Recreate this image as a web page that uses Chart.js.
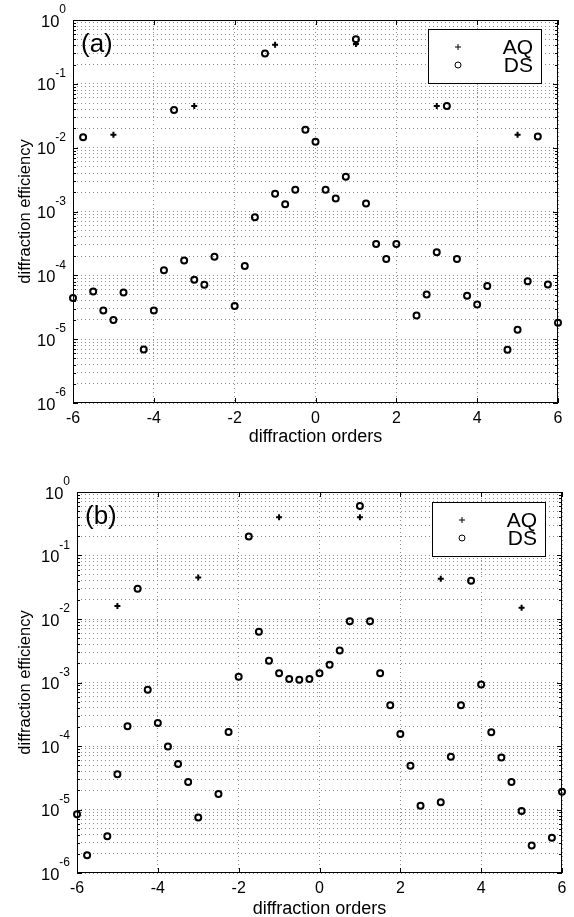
<!DOCTYPE html>
<html>
<head>
<meta charset="utf-8">
<script src="https://cdn.jsdelivr.net/npm/chart.js@4.4.1/dist/chart.umd.min.js"></script>
<style>
  html, body { margin: 0; padding: 0; background: #fff; }
  #wrap { position: relative; width: 574px; height: 917px; }
  canvas { position: absolute; left: 0; }
  #chartA { top: 0; }
  #chartB { top: 455px; }
</style>
</head>
<body>
<div id="wrap">
  <canvas id="chartA" width="574" height="455"></canvas>
  <canvas id="chartB" width="574" height="462"></canvas>
</div>
<script>
// values
const aqOrders = [-5, -3, -1, 1, 3, 5];
const aqA = [0.016, 0.045, 0.41, 0.42, 0.045, 0.016];
const aqB = [0.016, 0.045, 0.40, 0.40, 0.043, 0.015];

const dsOrdersA = [-6, -5.75, -5.5, -5.25, -5, -4.75, -4.25, -4, -3.75, -3.5, -3.25, -3,
  -2.75, -2.5, -2, -1.75, -1.5, -1.25, -1, -0.75, -0.5, -0.25, 0, 0.25, 0.5, 0.75, 1, 1.25,
  1.5, 1.75, 2, 2.5, 2.75, 3, 3.25, 3.5, 3.75, 4, 4.25, 4.75, 5, 5.25, 5.5, 5.75, 6];
const dsA = [4.4e-5, 0.0145, 5.6e-5, 2.8e-5, 2.0e-5, 5.4e-5, 6.9e-6, 2.8e-5, 1.2e-4, 0.039, 1.7e-4, 8.5e-5,
  7.1e-5, 1.95e-4, 3.3e-5, 1.4e-4, 8.1e-4, 0.30, 0.0019, 0.0013, 0.0022, 0.019, 0.0124, 0.0022, 0.0016, 0.0035, 0.50, 0.00134,
  3.1e-4, 1.8e-4, 3.1e-4, 2.35e-5, 5.0e-5, 2.3e-4, 0.045, 1.8e-4, 4.8e-5, 3.5e-5, 6.8e-5, 6.8e-6, 1.4e-5, 8.1e-5, 0.015, 7.2e-5, 1.8e-5];

const dsOrdersB = [-6, -5.75, -5.25, -5, -4.75, -4.5, -4.25, -4, -3.75, -3.5, -3.25, -3,
  -2.5, -2.25, -2, -1.75, -1.5, -1.25, -1, -0.75, -0.5, -0.25, 0, 0.25, 0.5, 0.75, 1, 1.25,
  1.5, 1.75, 2, 2.25, 2.5, 3, 3.25, 3.5, 3.75, 4, 4.25, 4.5, 4.75, 5, 5.25, 5.75, 6];
const dsB = [8.4e-6, 1.9e-6, 3.8e-6, 3.6e-5, 2.05e-4, 0.030, 7.7e-4, 2.3e-4, 9.8e-5, 5.2e-5, 2.7e-5, 7.5e-6,
  1.75e-5, 1.66e-4, 1.23e-3, 0.20, 0.0063, 0.0022, 0.0014, 0.00114, 0.0011, 0.00114, 0.0014, 0.0019, 0.0032, 0.0092, 0.60, 0.0092,
  0.0014, 4.4e-4, 1.55e-4, 4.9e-5, 1.15e-5, 1.3e-5, 6.8e-5, 4.4e-4, 0.040, 9.3e-4, 1.65e-4, 6.6e-5, 2.7e-5, 9.5e-6, 2.7e-6, 3.6e-6, 1.9e-5];

const xTicks = [-6, -4, -2, 0, 2, 4, 6];
const decades = [-6, -5, -4, -3, -2, -1, 0];
const legendLabels = ["AQ", "DS"];

const FONT = "'Liberation Sans', Arial, Helvetica, sans-serif";
Chart.defaults.font.family = FONT;
Chart.defaults.color = "#000";

function isDecade(v) {
  const l = Math.log10(v);
  return Math.abs(l - Math.round(l)) < 1e-9;
}

// box, inward ticks, 10^n labels, panel tag and legend, matlab style
const matlabFrame = {
  id: "matlabFrame",
  afterDraw(chart, args, opts) {
    const { ctx, chartArea: a, scales: { x, y } } = chart;
    ctx.save();
    ctx.strokeStyle = "#000";
    ctx.lineWidth = 1;
    ctx.beginPath();
    x.ticks.forEach(t => {
      const px = Math.round(x.getPixelForValue(t.value)) + 0.5;
      ctx.moveTo(px, a.bottom); ctx.lineTo(px, a.bottom - 5);
      ctx.moveTo(px, a.top); ctx.lineTo(px, a.top + 5);
    });
    y.ticks.forEach(t => {
      const py = Math.round(y.getPixelForValue(t.value)) + 0.5;
      const len = isDecade(t.value) ? 5 : 3;
      ctx.moveTo(a.left, py); ctx.lineTo(a.left + len, py);
      ctx.moveTo(a.right, py); ctx.lineTo(a.right - len, py);
    });
    ctx.stroke();
    ctx.strokeRect(Math.round(a.left) + 0.5, Math.round(a.top) + 0.5,
      Math.round(a.width) - 1, Math.round(a.height) - 1);

    // y tick labels with superscript exponents
    ctx.fillStyle = "#000";
    decades.forEach(e => {
      const py = y.getPixelForValue(Math.pow(10, e));
      const sup = String(e);
      ctx.font = "12px " + FONT;
      ctx.textAlign = "right";
      ctx.textBaseline = "middle";
      const supRight = a.left - 7;
      ctx.fillText(sup, supRight, py - 10);
      const w = ctx.measureText(sup).width;
      ctx.font = "16.5px " + FONT;
      ctx.fillText("10", supRight - w, py + 2);
    });

    // panel tag
    ctx.font = "26px " + FONT;
    ctx.textAlign = "left";
    ctx.textBaseline = "middle";
    ctx.fillText(opts.label, a.left + 8, a.top + 25);

    // legend box
    const lx = a.left + 355, ly = a.top + opts.legendTop, lw = 113, lh = 54;
    ctx.fillStyle = "#fff";
    ctx.fillRect(lx, ly, lw, lh);
    ctx.strokeRect(lx + 0.5, ly + 0.5, lw, lh);
    ctx.fillStyle = "#000";
    const sx = lx + 30;
    const r1 = ly + 18, r2 = ly + 36;
    ctx.beginPath();
    ctx.moveTo(sx - 3, r1); ctx.lineTo(sx + 3, r1);
    ctx.moveTo(sx, r1 - 3); ctx.lineTo(sx, r1 + 3);
    ctx.stroke();
    ctx.beginPath();
    ctx.arc(sx, r2, 3, 0, Math.PI * 2);
    ctx.stroke();
    ctx.font = "21px " + FONT;
    ctx.textAlign = "right";
    ctx.textBaseline = "middle";
    ctx.fillText(legendLabels[0], lx + lw - 8, r1 + 1);
    ctx.fillText(legendLabels[1], lx + lw - 8, r2 + 1);
    ctx.restore();
  }
};

function yTickList() {
  const list = [];
  decades.forEach(e => {
    for (let m = 1; m <= 9; m++) {
      const v = m * Math.pow(10, e);
      if (v <= 1.0000001) list.push({ value: v });
    }
  });
  return list;
}

function makePanel(id, label, aq, dsOrders, ds, g) {
  const ctx = document.getElementById(id).getContext("2d");
  return new Chart(ctx, {
    type: "scatter",
    data: {
      datasets: [
        {
          label: legendLabels[0],
          data: aqOrders.map((o, i) => ({ x: o, y: aq[i] })),
          pointStyle: "cross",
          pointRadius: 3,
          borderColor: "#000",
          borderWidth: 2,
          clip: false
        },
        {
          label: legendLabels[1],
          data: dsOrders.map((o, i) => ({ x: o, y: ds[i] })),
          pointStyle: "circle",
          pointRadius: 3,
          borderColor: "#000",
          backgroundColor: "rgba(0,0,0,0)",
          borderWidth: 2,
          clip: false
        }
      ]
    },
    options: {
      responsive: false,
      animation: false,
      layout: { padding: { top: g.top, right: g.right, left: 0, bottom: 0 } },
      scales: {
        x: {
          type: "linear",
          min: -6,
          max: 6,
          afterBuildTicks: s => { s.ticks = xTicks.map(v => ({ value: v })); },
          afterFit: s => { s.height = g.xHeight; },
          ticks: { color: "#000", font: { size: 16 }, padding: 6, maxRotation: 0 },
          grid: { color: "#8c8c8c", lineWidth: 1, drawTicks: false },
          border: { display: false, dash: [1, 3] },
          title: {
            display: true,
            text: "diffraction orders",
            color: "#000",
            font: { size: 18 },
            padding: { top: 0, bottom: g.titlePad }
          }
        },
        y: {
          type: "logarithmic",
          min: 1e-6,
          max: 1,
          afterBuildTicks: s => { s.ticks = yTickList(); },
          afterFit: s => { s.width = g.yWidth; },
          ticks: { autoSkip: false, callback: () => "" },
          grid: { color: "#8c8c8c", lineWidth: 1, drawTicks: false },
          border: { display: false, dash: [1, 3] },
          title: {
            display: true,
            text: "diffraction efficiency",
            color: "#000",
            font: { size: 16.5 },
            padding: { top: 16, bottom: 0 }
          }
        }
      },
      plugins: {
        legend: { display: false },
        tooltip: { enabled: false },
        matlabFrame: { label: label, legendTop: g.legendTop }
      }
    },
    plugins: [matlabFrame]
  });
}

makePanel("chartA", "(a)", aqA, dsOrdersA, dsA,
  { top: 20, right: 16, xHeight: 52, yWidth: 73, titlePad: 7, legendTop: 9 });
makePanel("chartB", "(b)", aqB, dsOrdersB, dsB,
  { top: 37, right: 12, xHeight: 44, yWidth: 77, titlePad: -3, legendTop: 10 });
</script>
</body>
</html>
